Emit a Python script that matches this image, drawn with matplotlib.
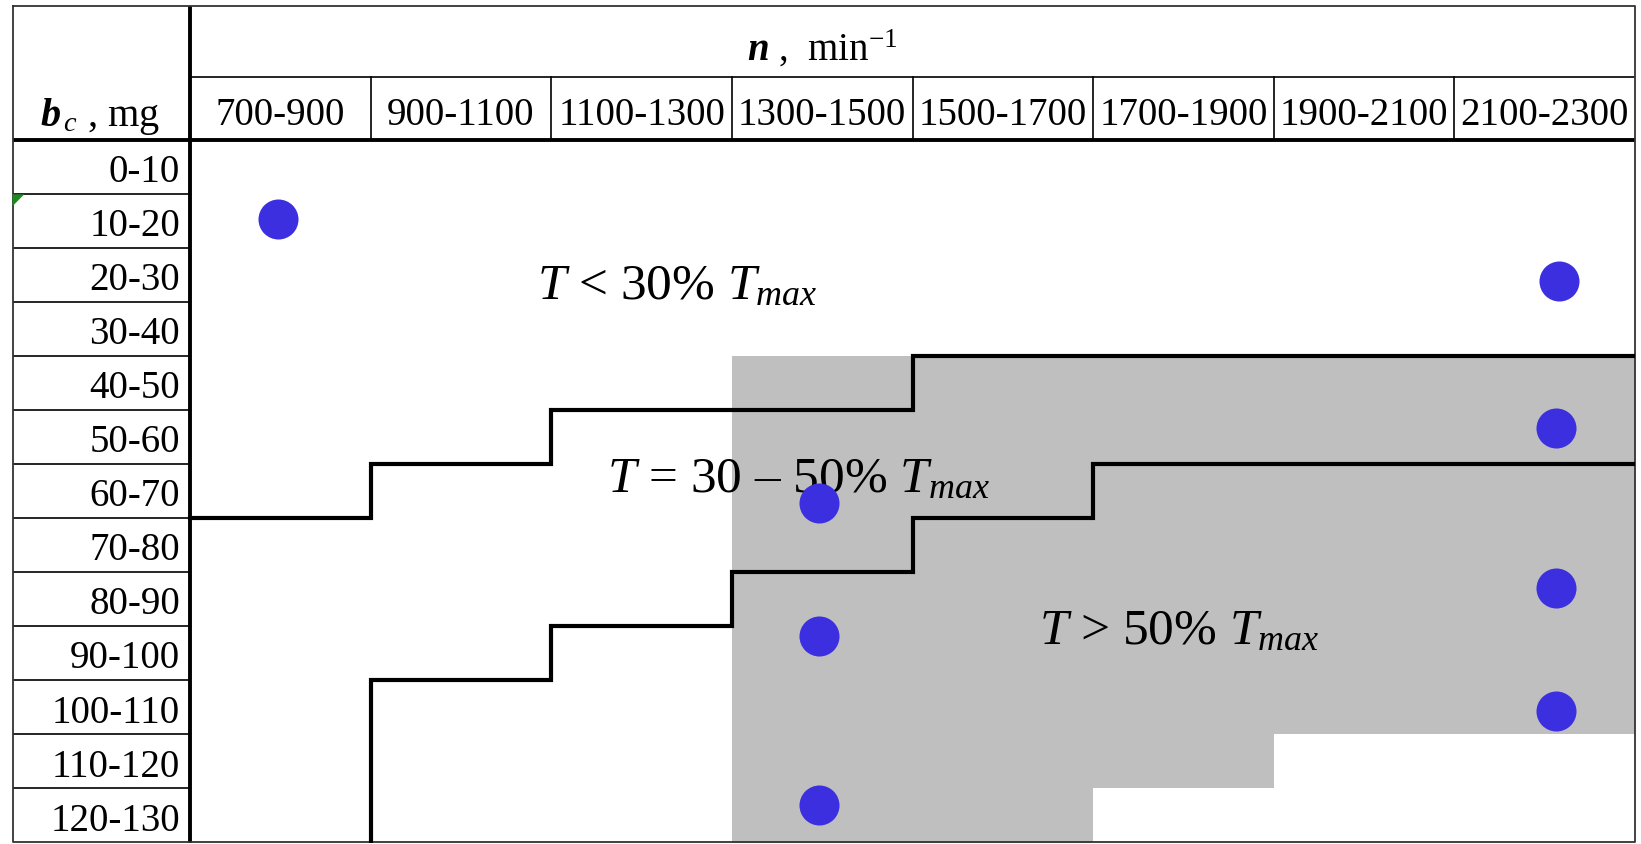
import numpy as np
from matplotlib import pyplot as plt
from matplotlib.patches import Polygon

# table categories
n_ranges = ["700-900", "900-1100", "1100-1300", "1300-1500",
            "1500-1700", "1700-1900", "1900-2100", "2100-2300"]
n_edges = [700, 900, 1100, 1300, 1500, 1700, 1900, 2100, 2300]
b_ranges = ["0-10", "10-20", "20-30", "30-40", "40-50", "50-60", "60-70",
            "70-80", "80-90", "90-100", "100-110", "110-120", "120-130"]
b_edges = [0, 10, 20, 30, 40, 50, 60, 70, 80, 90, 100, 110, 120, 130]

# zone borders per n column (b_c, mg)
border_30 = [70, 60, 50, 50, 40, 40, 40, 40]
border_50 = [130, 100, 90, 80, 70, 60, 60, 60]

# grey area per n column (top, bottom), None = no grey
grey_top = [None, None, None, 40, 40, 40, 40, 40]
grey_bottom = [None, None, None, 130, 130, 120, 110, 110]

# measured points
n_pts = [797, 2216, 2213, 1396, 2213, 1396, 2213, 1396]
b_pts = [14.5, 26, 53.3, 67.2, 82.8, 91.7, 105.6, 123]

plt.rcParams['font.family'] = 'Liberation Serif'
plt.rcParams['mathtext.fontset'] = 'custom'
plt.rcParams['mathtext.rm'] = 'Liberation Serif'
plt.rcParams['mathtext.it'] = 'Liberation Serif:italic'
plt.rcParams['mathtext.bf'] = 'Liberation Serif:bold'
plt.rcParams['mathtext.bfit'] = 'Liberation Serif:bold:italic'

W, H = 1641, 845
fig = plt.figure(figsize=(W / 100, H / 100), dpi=100)
fig.set_facecolor("white")

# pixel layout of the table
px_left, px_right, px_top, px_bottom = 12.5, 1635, 7, 843.5
px_data_left, px_head_bottom = 190, 141.3
col_px = (px_right - px_data_left) / 8 / 200      # px per min^-1
row_px = (px_bottom - px_head_bottom) / 13 / 10  # px per mg

x0 = n_edges[0] - (px_data_left - px_left) / col_px
y_top = -(px_head_bottom - px_top) / row_px
y_split = -(px_head_bottom - 78.5) / row_px

ax = fig.add_axes([px_left / W, (H - px_bottom) / H,
                   (px_right - px_left) / W, (px_bottom - px_top) / H])
ax.set_xlim(x0, n_edges[-1])
ax.set_ylim(b_edges[-1], y_top)
ax.axis("off")

# grey zone
for i in range(len(n_ranges)):
    if grey_top[i] is None:
        continue
    ax.bar((n_edges[i] + n_edges[i + 1]) / 2, grey_bottom[i] - grey_top[i],
           bottom=grey_top[i], width=200, color="#bfbfbf", linewidth=0, zorder=1)

# left column row lines
for b in b_edges[1:-1]:
    ax.plot([x0, n_edges[0]], [b, b], color="black", lw=1.2, zorder=3)

# header lines
ax.plot([n_edges[0], n_edges[-1]], [y_split, y_split], color="black", lw=1.2, zorder=3)
for n in n_edges[1:-1]:
    ax.plot([n, n], [y_split, 0], color="black", lw=1.2, zorder=3)
ax.plot([x0, n_edges[-1]], [0, 0], color="black", lw=2.8, zorder=4)
ax.plot([n_edges[0], n_edges[0]], [y_top, b_edges[-1]], color="black", lw=2.8, zorder=4)

# outer border
ax.plot([x0, n_edges[-1], n_edges[-1], x0, x0],
        [y_top, y_top, b_edges[-1], b_edges[-1], y_top],
        color="#333333", lw=1.3, zorder=4, clip_on=False)

# step borders
xs = np.repeat(n_edges, 2)[1:-1]
ax.plot(xs, np.repeat(border_30, 2), color="black", lw=3, zorder=5,
        solid_joinstyle="miter")
ax.plot(np.r_[n_edges[1], xs[2:]], np.r_[b_edges[-1], np.repeat(border_50[1:], 2)],
        color="black", lw=3, zorder=5, solid_joinstyle="miter")

# excel marker
ax.add_patch(Polygon([[x0, 10], [x0 + 13, 10], [x0, 12.2]], closed=True,
                     color="#1e8a1e", lw=0, zorder=6, clip_on=False))

# labels
for i, lab in enumerate(n_ranges):
    ax.text((n_edges[i] + n_edges[i + 1]) / 2, -3.1, lab, ha="center",
            va="baseline", fontsize=28, zorder=6)
for i, lab in enumerate(b_ranges):
    ax.text(689, b_edges[i] + 7.6, lab, ha="right", va="baseline",
            fontsize=28, zorder=6)
ax.text(534, -2.8, r"$\mathbfit{b}_{\,\mathit{c}}$ , mg", ha="left", va="baseline",
        fontsize=29, zorder=6)
ax.text(1400, -15, r"$\mathbfit{n}$ ,  min$^{-1}$", ha="center", va="baseline",
        fontsize=28, zorder=6)

ax.text(1084, 29.2, r"$T$ < 30% $T_{max}$", ha="left", va="baseline",
        fontsize=37, zorder=6)
ax.text(1162, 64.9, r"$T$ = 30 – 50% $T_{max}$", ha="left", va="baseline",
        fontsize=37, zorder=6)
ax.text(1640, 93, r"$T$ > 50% $T_{max}$", ha="left", va="baseline",
        fontsize=37, zorder=6)

# points
ax.scatter(n_pts, b_pts, s=830, color="#3b2fe0", linewidths=0, zorder=7)

fig.savefig("out.png", dpi=100, facecolor="white")
